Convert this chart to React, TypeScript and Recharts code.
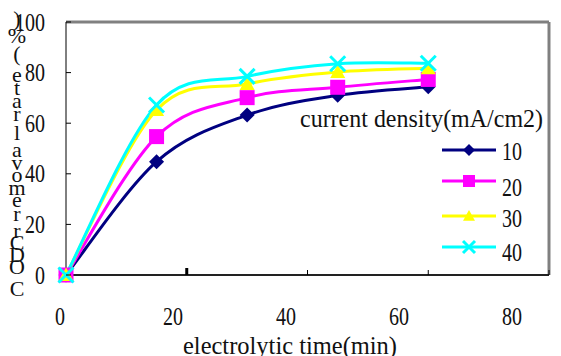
import React from 'react';
import { LineChart, Line, XAxis, YAxis, ReferenceLine, Legend } from 'recharts';

const times = [0, 15, 30, 45, 60];
const cd10 = [0, 44.8, 63.2, 71.0, 74.4];
const cd20 = [0, 54.7, 70.1, 74.2, 77.3];
const cd30 = [0, 65.2, 75.5, 80.2, 81.7];
const cd40 = [0, 67.2, 78.5, 83.5, 83.7];
const seriesNames = ['10', '20', '30', '40'];
const seriesColors = ['#000080', '#FF00FF', '#FFFF00', '#00FFFF'];
const seriesShapes = ['diamond', 'square', 'triangle', 'cross'];
const xTicks = [0, 20, 40, 60, 80];
const yTicks = [0, 20, 40, 60, 80, 100];
const yTitle = 'CODCr removal rate(%)';
const xTitle = 'electrolytic time(min)';
const legendTitle = 'current density(mA/cm2)';

const data = times.map((t, i) => ({ t, s10: cd10[i], s20: cd20[i], s30: cd30[i], s40: cd40[i] }));
const keys = ['s10', 's20', 's30', 's40'];

const FONT = "'Liberation Serif', 'Times New Roman', 'DejaVu Serif', serif";

// Catmull-Rom style smoothing (like spreadsheet "smoothed line")
function smoothCurve(context: any) {
  let pts: [number, number][] = [];
  return {
    areaStart() {},
    areaEnd() {},
    lineStart() {
      pts = [];
    },
    point(x: number, y: number) {
      pts.push([+x, +y]);
    },
    lineEnd() {
      if (!pts.length) return;
      context.moveTo(pts[0][0], pts[0][1]);
      for (let i = 0; i < pts.length - 1; i++) {
        const p0 = pts[Math.max(0, i - 1)];
        const p1 = pts[i];
        const p2 = pts[i + 1];
        const p3 = pts[Math.min(pts.length - 1, i + 2)];
        const c1x = p1[0] + (p2[0] - p0[0]) / 6;
        const c1y = p1[1] + (p2[1] - p0[1]) / 6;
        const c2x = p2[0] - (p3[0] - p1[0]) / 6;
        const c2y = p2[1] - (p3[1] - p1[1]) / 6;
        context.bezierCurveTo(c1x, c1y, c2x, c2y, p2[0], p2[1]);
      }
    },
  };
}

function Marker({ shape, cx, cy, color, s }: any) {
  if (cx == null || cy == null) return null;
  if (shape === 'diamond') {
    return <polygon points={`${cx},${cy - s} ${cx + s},${cy} ${cx},${cy + s} ${cx - s},${cy}`} fill={color} />;
  }
  if (shape === 'square') {
    return <rect x={cx - s} y={cy - s} width={2 * s} height={2 * s} fill={color} />;
  }
  if (shape === 'triangle') {
    return <polygon points={`${cx},${cy - s} ${cx + s},${cy + s * 0.8} ${cx - s},${cy + s * 0.8}`} fill={color} />;
  }
  return (
    <g stroke={color} strokeWidth={3}>
      <line x1={cx - s} y1={cy - s} x2={cx + s} y2={cy + s} />
      <line x1={cx - s} y1={cy + s} x2={cx + s} y2={cy - s} />
    </g>
  );
}

const makeDot = (idx: number) => (props: any) => (
  <Marker key={`dot-${idx}-${props.index}`} shape={seriesShapes[idx]} cx={props.cx} cy={props.cy} color={seriesColors[idx]} s={7.5} />
);

const PLOT_LEFT = 66;
const PLOT_RIGHT = 549;

function XTick(props: any) {
  const { x, y, payload } = props;
  const v = String(payload.value);
  const labelCenter = 60 + (x - PLOT_LEFT) * (452 / (PLOT_RIGHT - PLOT_LEFT));
  const w = v.length * 10;
  const thick = payload.value === 20;
  return (
    <g>
      {payload.value !== 0 && (
        <line x1={x} y1={y} x2={x} y2={thick ? y - 7 : y - 5} stroke="#000" strokeWidth={thick ? 3 : 1} />
      )}
      <text x={labelCenter - w / 2} y={325} style={{ fontFamily: FONT }} fontSize={26} fill="#111" textLength={w} lengthAdjust="spacingAndGlyphs">
        {v}
      </text>
    </g>
  );
}

function YTick(props: any) {
  const { x, y, payload } = props;
  const v = String(payload.value);
  const w = v.length * 10;
  return (
    <g>
      <line x1={x} y1={y} x2={x + 5} y2={y} stroke="#000" strokeWidth={1} />
      <text x={45 - w} y={y + 8.5} style={{ fontFamily: FONT }} fontSize={26} fill="#111" textLength={w} lengthAdjust="spacingAndGlyphs">
        {v}
      </text>
    </g>
  );
}

const yGlyphY = [20, 37, 55, 76, 89, 102, 115, 134, 151, 164, 176, 189, 201, 215, 232, 244, 256, 268, 290];

function YTitle() {
  const chars = yTitle.replace(/ /g, '').split('').reverse();
  return (
    <g>
      {chars.map((c, i) => (
        <text key={i} x={17} y={(yGlyphY[i] ?? 290) + 6} textAnchor="middle" style={{ fontFamily: FONT }} fontSize={22} fill="#111">
          {c}
        </text>
      ))}
    </g>
  );
}

const legendLineY = [150, 181, 216, 247];
const legendTextY = [160, 196, 227, 261];

function LegendBox() {
  return (
    <svg width={561} height={356} style={{ position: 'absolute', left: 0, top: 0, fontFamily: FONT }}>
      <text x={300} y={127} style={{ fontFamily: FONT }} fontSize={26} fill="#111" textLength={243} lengthAdjust="spacingAndGlyphs">
        {legendTitle}
      </text>
      {seriesNames.map((n, i) => (
        <g key={n}>
          <line x1={442} y1={legendLineY[i]} x2={496} y2={legendLineY[i]} stroke={seriesColors[i]} strokeWidth={3} />
          <Marker shape={seriesShapes[i]} cx={469} cy={legendLineY[i]} color={seriesColors[i]} s={6} />
          <text x={502} y={legendTextY[i]} style={{ fontFamily: FONT }} fontSize={26} fill="#111" textLength={20} lengthAdjust="spacingAndGlyphs">
            {n}
          </text>
        </g>
      ))}
      <YTitle />
      <text x={183} y={354} style={{ fontFamily: FONT }} fontSize={26} fill="#111" textLength={214} lengthAdjust="spacingAndGlyphs">
        {xTitle}
      </text>
    </svg>
  );
}

export default function App() {
  return (
    <div style={{ position: 'absolute', left: 0, top: 0, width: 561, height: 356, background: '#fff', fontFamily: FONT }}>
      <LineChart width={561} height={356} data={data} margin={{ top: 22, right: 12, bottom: 21, left: 16 }}>
        <XAxis
          dataKey="t"
          type="number"
          domain={[0, 80]}
          ticks={xTicks}
          height={60}
          tickSize={0}
          tickMargin={0}
          tickLine={false}
          axisLine={{ stroke: '#222', strokeWidth: 2 }}
          tick={<XTick />}
          interval={0}
        />
        <YAxis
          type="number"
          domain={[0, 100]}
          ticks={yTicks}
          width={50}
          tickSize={0}
          tickMargin={0}
          tickLine={false}
          axisLine={{ stroke: '#000', strokeWidth: 1 }}
          tick={<YTick />}
          interval={0}
        />
        <ReferenceLine y={100} stroke="#808080" strokeWidth={3} />
        <ReferenceLine x={80} stroke="#808080" strokeWidth={3} />
        {keys.map((k, i) => (
          <Line
            key={k}
            dataKey={k}
            name={seriesNames[i]}
            type={smoothCurve as any}
            stroke={seriesColors[i]}
            strokeWidth={3}
            dot={makeDot(i)}
            activeDot={false}
            isAnimationActive={false}
          />
        ))}
        <Legend
          layout="horizontal"
          verticalAlign="middle"
          align="center"
          content={() => <LegendBox />}
          wrapperStyle={{ position: 'absolute', left: 0, top: 0, width: 561, height: 356, pointerEvents: 'none' }}
        />
      </LineChart>
    </div>
  );
}
